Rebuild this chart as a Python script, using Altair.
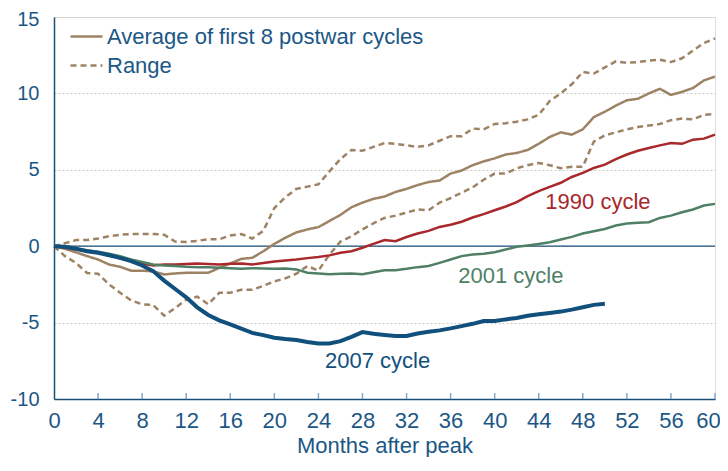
import altair as alt
import pandas as pd

# ---------------- data ----------------
months = list(range(61))

avg_postwar = [0, -0.17, -0.4, -0.65, -0.87, -1.2, -1.35, -1.6, -1.6, -1.65,
               -1.85, -1.78, -1.74, -1.74, -1.74, -1.42, -1.13, -0.83, -0.76, -0.33,
               0.15, 0.55, 0.9, 1.1, 1.25, 1.65, 2.05, 2.55, 2.85, 3.1,
               3.25, 3.55, 3.75, 4.0, 4.2, 4.3, 4.75, 4.95, 5.3, 5.55,
               5.75, 6.0, 6.1, 6.3, 6.7, 7.15, 7.45, 7.3, 7.65, 8.45,
               8.8, 9.2, 9.55, 9.65, 10.0, 10.3, 9.9, 10.1, 10.35, 10.85, 11.1]

range_upper = [0, 0.2, 0.4, 0.4, 0.5, 0.65, 0.75, 0.8, 0.8, 0.8,
               0.75, 0.3, 0.28, 0.35, 0.45, 0.45, 0.7, 0.8, 0.5, 1.0,
               2.5, 3.2, 3.75, 3.9, 4.05, 4.9, 5.7, 6.3, 6.25, 6.5,
               6.75, 6.7, 6.6, 6.5, 6.6, 6.9, 7.2, 7.2, 7.7, 7.65,
               8.0, 8.05, 8.15, 8.3, 8.6, 9.5, 10.0, 10.6, 11.4, 11.3,
               11.7, 12.1, 12.0, 12.05, 12.15, 12.2, 12.05, 12.3, 12.8, 13.3, 13.6]

range_lower = [0, -0.65, -1.1, -1.75, -1.8, -2.5, -3.05, -3.55, -3.8, -3.85,
               -4.55, -4.05, -3.5, -3.3, -3.8, -3.05, -3.05, -2.85, -2.85, -2.6,
               -2.3, -2.1, -1.8, -1.3, -1.6, -0.55, 0.3, 0.65, 1.1, 1.5,
               1.85, 2.0, 2.2, 2.4, 2.35, 2.85, 3.15, 3.5, 3.85, 4.35,
               4.75, 4.75, 5.1, 5.3, 5.45, 5.3, 5.1, 5.2, 5.2, 6.85,
               7.25, 7.45, 7.65, 7.8, 7.9, 8.0, 8.25, 8.35, 8.3, 8.6, 8.65]

cycle_1990 = [0, -0.1, -0.2, -0.33, -0.43, -0.55, -0.8, -0.93, -1.13, -1.26,
              -1.2, -1.2, -1.17, -1.13, -1.17, -1.2, -1.15, -1.13, -1.2, -1.1,
              -1.0, -0.93, -0.87, -0.78, -0.7, -0.6, -0.43, -0.33, -0.1, 0.15,
              0.4, 0.33, 0.6, 0.83, 1.0, 1.26, 1.4, 1.6, 1.88, 2.1,
              2.35, 2.6, 2.88, 3.27, 3.6, 3.88, 4.15, 4.53, 4.8, 5.12,
              5.34, 5.7, 6.0, 6.25, 6.43, 6.6, 6.75, 6.7, 6.97, 7.04, 7.3]

cycle_2001 = [0, -0.07, -0.17, -0.26, -0.37, -0.5, -0.65, -0.87, -1.04, -1.2,
              -1.26, -1.3, -1.35, -1.37, -1.37, -1.41, -1.44, -1.48, -1.44, -1.46,
              -1.48, -1.46, -1.52, -1.74, -1.78, -1.83, -1.8, -1.78, -1.83, -1.7,
              -1.57, -1.57, -1.48, -1.37, -1.3, -1.09, -0.87, -0.65, -0.54, -0.5,
              -0.39, -0.22, -0.04, 0.05, 0.15, 0.26, 0.44, 0.61, 0.83, 0.98,
              1.13, 1.35, 1.48, 1.53, 1.57, 1.85, 2.0, 2.22, 2.4, 2.66, 2.77]

cycle_2007 = [0, -0.04, -0.17, -0.33, -0.43, -0.59, -0.76, -0.98, -1.26, -1.63,
              -2.25, -2.8, -3.35, -4.0, -4.5, -4.85, -5.12, -5.4, -5.67, -5.82,
              -5.99, -6.08, -6.14, -6.27, -6.36, -6.36, -6.21, -5.93, -5.62, -5.73,
              -5.81, -5.88, -5.88, -5.71, -5.6, -5.51, -5.38, -5.23, -5.08, -4.9,
              -4.9, -4.79, -4.7, -4.55, -4.45, -4.37, -4.28, -4.15, -4.0, -3.84, -3.77]

legend_labels = ["Average of first 8 postwar cycles", "Range"]
cycle_names = ["1990 cycle", "2001 cycle", "2007 cycle"]
x_tick_values = list(range(0, 61, 4))
y_tick_values = [-10, -5, 0, 5, 10, 15]
x_title = "Months after peak"

# annotation anchors (data units: month, percent)
label_month = [44.6, 36.7, 24.6]
label_value = [2.44, -2.39, -7.99]

# ---------------- styling ----------------
FONT = "Liberation Sans"
TEXT = "#1b5786"
AXIS = "#1a4f78"
TICK = "#86a5c2"
GRID = "#cacac2"
BROWN = "#9e8264"
RED = "#a8282c"
GREEN = "#4f8066"
BLUE = "#11507c"
W, H = 661, 382

x_scale = alt.Scale(domain=[0, 60], nice=False, zero=False)
y_scale = alt.Scale(domain=[-10, 15], nice=False, zero=False)

x_axis = alt.Axis(values=x_tick_values, title=x_title, grid=False, ticks=False, tickSize=0,
                  domainColor=AXIS, domainWidth=1.5, labelColor=TEXT, labelFont=FONT,
                  labelFontSize=22, labelPadding=28, labelBaseline="alphabetic",
                  labelFlush=False,
                  labelOffset={"condition": {"test": "datum.value == 60", "value": -7}, "value": 0},
                  titleColor=TEXT, titleFont=FONT, titleFontSize=22, titleFontWeight="normal",
                  titleY=53, titleBaseline="alphabetic")
y_axis = alt.Axis(values=y_tick_values, title=None, grid=True, gridColor=GRID, gridDash=[2, 2],
                  gridWidth=1, ticks=False, tickSize=0, domainColor=AXIS, domainWidth=1.5,
                  labelColor=TEXT, labelFont=FONT, labelFontSize=20, labelPadding=15,
                  labelFlush=False,
                  labelOffset={"condition": {"test": "datum.value == 15", "value": 2}, "value": 0},
                  labelExpr="datum.value < 0 ? '-' + abs(datum.value) : '' + datum.value")

X = alt.X("month:Q", scale=x_scale, axis=x_axis)
Y = alt.Y("value:Q", scale=y_scale, axis=y_axis)

# brown lines: average and range
brown_rows = []
for m, a, u, l in zip(months, avg_postwar, range_upper, range_lower):
    brown_rows.append({"month": m, "value": a, "kind": legend_labels[0], "line": "avg"})
    brown_rows.append({"month": m, "value": u, "kind": legend_labels[1], "line": "upper"})
    brown_rows.append({"month": m, "value": l, "kind": legend_labels[1], "line": "lower"})
brown_df = pd.DataFrame(brown_rows)

brown = alt.Chart(brown_df).mark_line(color=BROWN, strokeWidth=2.5).encode(
    x=X, y=Y, detail="line:N",
    strokeDash=alt.StrokeDash(
        "kind:N",
        scale=alt.Scale(domain=legend_labels, range=[[1, 0], [6, 4]]),
        legend=alt.Legend(orient="none", legendX=15, legendY=2, title=None,
                          symbolType="stroke", symbolSize=1024, symbolStrokeWidth=2.5,
                          symbolStrokeColor=BROWN, labelFont=FONT, labelFontSize=22,
                          labelColor=TEXT, labelOffset=3, rowPadding=-2, padding=0,
                          labelLimit=500)),
    order="month:Q",
)

zero_rule = alt.Chart(pd.DataFrame({"value": [0]})).mark_rule(
    color=AXIS, strokeWidth=1.3).encode(y=Y)

tick_df = pd.DataFrame({"month": x_tick_values[1:]})
ticks = alt.Chart(tick_df).mark_rule(color=TICK, strokeWidth=1.5).encode(
    x=X, y=alt.value(H), y2=alt.value(H - 6))

cycle_series = [cycle_1990, cycle_2001, cycle_2007]
cycle_colors = [RED, GREEN, BLUE]
cycle_widths = [2.5, 2.5, 4]
cycle_layers = []
for name, vals, col, sw in zip(cycle_names, cycle_series, cycle_colors, cycle_widths):
    df = pd.DataFrame({"month": months[:len(vals)], "value": vals, "cycle": name})
    cycle_layers.append(
        alt.Chart(df).mark_line(color=col, strokeWidth=sw).encode(x=X, y=Y, order="month:Q"))

ann_df = pd.DataFrame({"month": label_month, "value": label_value, "label": cycle_names})
ann_layers = []
for i, col in enumerate(cycle_colors):
    ann_layers.append(
        alt.Chart(ann_df.iloc[[i]]).mark_text(
            align="left", baseline="alphabetic", font=FONT, fontSize=22, color=col
        ).encode(x=X, y=Y, text="label:N"))

chart = alt.layer(zero_rule, ticks, brown, *cycle_layers, *ann_layers).properties(
    width=W, height=H,
    autosize=alt.AutoSizeParams(type="none"),
    padding={"left": 46, "top": 9, "right": 5, "bottom": 58},
).configure_view(strokeWidth=0).configure(background="white")

chart.save("out.html", embed_options={"renderer": "svg", "actions": False})
